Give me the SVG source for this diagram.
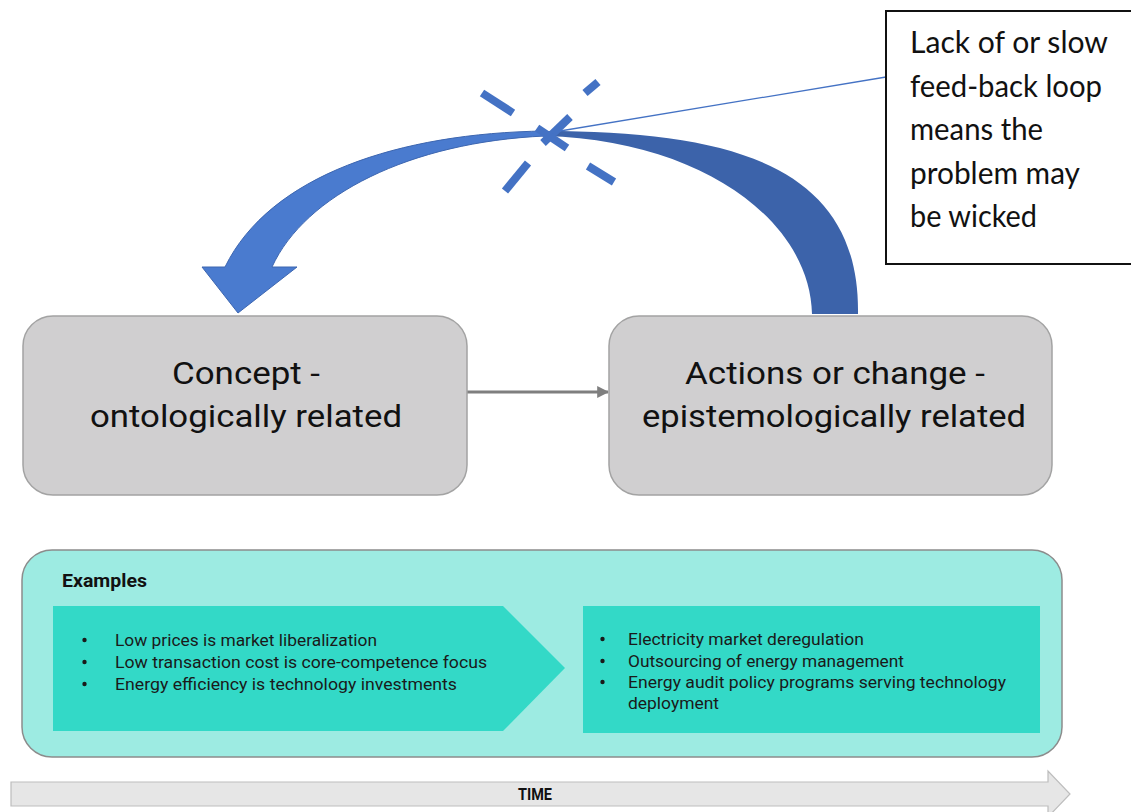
<svg xmlns="http://www.w3.org/2000/svg" width="1131" height="812" viewBox="0 0 1131 812">
  <style>
    .node-box { fill: #d0cfd0; stroke: #a3a3a3; stroke-width: 1.5; }
    .node-label { font-family: Roboto, "Liberation Sans", sans-serif; font-size: 32px; fill: #111111; text-anchor: middle; }
    .note-text { font-family: Lato, "Liberation Sans", sans-serif; font-size: 30px; fill: #111111; }
    .ex-text { font-family: Roboto, "Liberation Sans", sans-serif; font-size: 17px; fill: #1a1a1a; }
    .bullet { fill: #1a1a1a; }
    .dash { stroke: #4472c4; stroke-width: 8; stroke-linecap: butt; }
  </style>
  <defs>
    <marker id="arrowGray" viewBox="0 0 10 10" refX="9" refY="5" markerWidth="4" markerHeight="4" orient="auto" markerUnits="strokeWidth">
      <path d="M0,0 L10,5 L0,10 Z" fill="#7f7f7f"/>
    </marker>
  </defs>

  <rect x="0" y="0" width="1131" height="812" fill="#ffffff"/>

  <!-- connectors -->
  <g id="connectors">
    <!-- curved feedback arrow: darker rising limb -->
    <path d="M545,131 C740,131 860,170 858,314 L812,314 C810,220 700,140 545,136 Z" fill="#3c63aa"/>
    <!-- curved feedback arrow: lighter descending limb with head -->
    <path d="M545,131 C400,133 270,175 225,267 L202,267 L238,313 L297,267 L272,267 C305,195 410,142 545,136 Z" fill="#4a7bcf" stroke="#3d66b0" stroke-width="1" stroke-linejoin="round"/>
    <!-- concept to action -->
    <line x1="467" y1="392" x2="608" y2="392" stroke="#7f7f7f" stroke-width="3" marker-end="url(#arrowGray)"/>
    <!-- callout leader -->
    <line x1="548" y1="133" x2="886" y2="77" stroke="#4472c4" stroke-width="1.3"/>
  </g>

  <!-- break marks on the loop -->
  <g id="break-marks">
    <line class="dash" x1="482" y1="93" x2="513" y2="113"/>
    <line class="dash" x1="585" y1="93" x2="598" y2="82"/>
    <line class="dash" x1="543" y1="143" x2="570" y2="117"/>
    <line class="dash" x1="537" y1="128" x2="567" y2="148"/>
    <line class="dash" x1="505" y1="191" x2="528" y2="163"/>
    <line class="dash" x1="588" y1="166" x2="614" y2="182"/>
  </g>

  <!-- callout note -->
  <g id="note">
    <rect x="886" y="11" width="260" height="253" fill="#ffffff" stroke="#111111" stroke-width="2"/>
    <text class="note-text" x="910" y="53" textLength="198" lengthAdjust="spacingAndGlyphs">Lack of or slow</text>
    <text class="note-text" x="910" y="96.5" textLength="192" lengthAdjust="spacingAndGlyphs">feed-back loop</text>
    <text class="note-text" x="910" y="140" textLength="133" lengthAdjust="spacingAndGlyphs">means the</text>
    <text class="note-text" x="910" y="183.5" textLength="170" lengthAdjust="spacingAndGlyphs">problem may</text>
    <text class="note-text" x="910" y="227" textLength="127" lengthAdjust="spacingAndGlyphs">be wicked</text>
  </g>

  <!-- concept node -->
  <g id="concept">
    <rect class="node-box" x="23" y="316" width="444" height="179" rx="30" ry="30"/>
    <text class="node-label" x="246" y="384" textLength="148" lengthAdjust="spacingAndGlyphs">Concept -</text>
    <text class="node-label" x="246" y="427" textLength="312" lengthAdjust="spacingAndGlyphs">ontologically related</text>
  </g>

  <!-- action node -->
  <g id="action">
    <rect class="node-box" x="609" y="316" width="443" height="179" rx="30" ry="30"/>
    <text class="node-label" x="835" y="384" textLength="300" lengthAdjust="spacingAndGlyphs">Actions or change -</text>
    <text class="node-label" x="834" y="427" textLength="384" lengthAdjust="spacingAndGlyphs">epistemologically related</text>
  </g>

  <!-- examples panel -->
  <g id="examples">
    <rect x="22" y="550" width="1040" height="207" rx="30" ry="30" fill="#9debe2" stroke="#8c8c8c" stroke-width="1.5"/>
    <text x="62" y="587" font-family="Roboto, 'Liberation Sans', sans-serif" font-size="19" font-weight="bold" fill="#111111" textLength="85" lengthAdjust="spacingAndGlyphs">Examples</text>

    <g id="examples-concept">
      <path d="M53,606 L503,606 L565,668 L503,731 L53,731 Z" fill="#33d9c7"/>
      <circle class="bullet" cx="84.5" cy="640" r="2.2"/>
      <circle class="bullet" cx="84.5" cy="662" r="2.2"/>
      <circle class="bullet" cx="84.5" cy="684" r="2.2"/>
      <text class="ex-text" x="115" y="646" textLength="262" lengthAdjust="spacingAndGlyphs">Low prices is market liberalization</text>
      <text class="ex-text" x="115" y="668" textLength="372" lengthAdjust="spacingAndGlyphs">Low transaction cost is core-competence focus</text>
      <text class="ex-text" x="115" y="690" textLength="342" lengthAdjust="spacingAndGlyphs">Energy efficiency is technology investments</text>
    </g>

    <g id="examples-action">
      <rect x="583" y="606" width="457" height="127" fill="#33d9c7"/>
      <circle class="bullet" cx="602.5" cy="639" r="2.2"/>
      <circle class="bullet" cx="602.5" cy="661" r="2.2"/>
      <circle class="bullet" cx="602.5" cy="682" r="2.2"/>
      <text class="ex-text" x="628" y="645" textLength="236" lengthAdjust="spacingAndGlyphs">Electricity market deregulation</text>
      <text class="ex-text" x="628" y="667" textLength="276" lengthAdjust="spacingAndGlyphs">Outsourcing of energy management</text>
      <text class="ex-text" x="628" y="688" textLength="378" lengthAdjust="spacingAndGlyphs">Energy audit policy programs serving technology</text>
      <text class="ex-text" x="628" y="709" textLength="91" lengthAdjust="spacingAndGlyphs">deployment</text>
    </g>
  </g>

  <!-- time axis -->
  <g id="time">
    <path d="M11,782 L1048,782 L1048,771 L1070,794 L1048,817 L1048,806 L11,806 Z" fill="#e6e6e6" stroke="#bdbdbd" stroke-width="1.2"/>
    <text x="535" y="800" font-family="Roboto, 'Liberation Sans', sans-serif" font-size="16" font-weight="bold" fill="#111111" text-anchor="middle" textLength="34" lengthAdjust="spacingAndGlyphs">TIME</text>
  </g>
</svg>
